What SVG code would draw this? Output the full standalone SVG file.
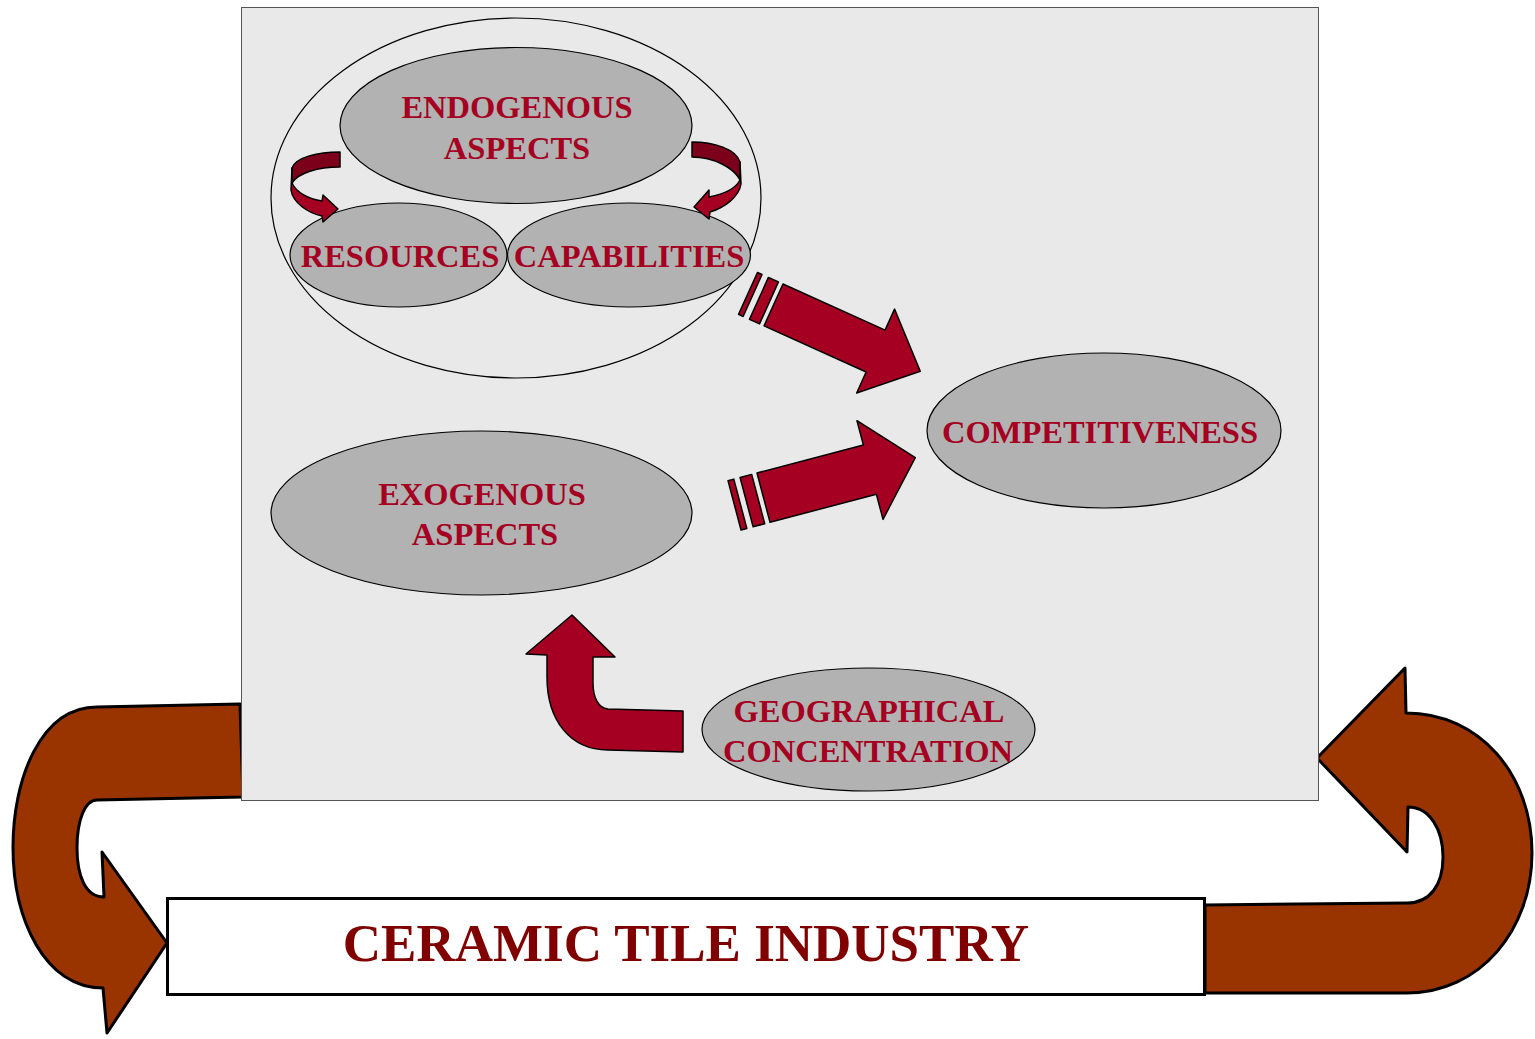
<svg xmlns="http://www.w3.org/2000/svg" width="1535" height="1039" viewBox="0 0 1535 1039">
<style>
.panel{fill:#e9e9e9;stroke:#555;stroke-width:1}
.ell{fill:#b2b2b2;stroke:#000;stroke-width:1.2}
.outer{fill:none;stroke:#000;stroke-width:1.2}
.lbl{font-family:"Liberation Serif","Times New Roman",serif;font-weight:bold;font-size:32.5px;fill:#a50021;text-anchor:middle}
.big{font-family:"Liberation Serif","Times New Roman",serif;font-weight:bold;font-size:53px;fill:#800000;text-anchor:middle}
.red{fill:#a50021;stroke:#000;stroke-width:1.5;stroke-linejoin:round}
.dark{fill:#7d001a;stroke:#000;stroke-width:1.5;stroke-linejoin:round}
.brown{fill:#993300;stroke:#000;stroke-width:3;stroke-linejoin:round}
</style>
<rect width="1535" height="1039" fill="#fff"/>
<g id="loop-arrows">
<path class="brown" d="M 240,704 L 97,707 C 40,707 13,780 13,847 C 13,920 45,988 103,988 L 107,1033 L 167,943 L 102,852 L 104,897 C 85,897 77,875 77,848 C 77,820 85,800 97,800 L 243,797 Z"/>
<path class="brown" d="M 1205,905 L 1407,903 C 1430,903 1443,885 1443,857 C 1443,830 1430,807 1408,807 L 1407,852 L 1317,758 L 1405,668 L 1406,713 C 1480,713 1532,775 1532,853 C 1532,930 1480,993 1407,993 L 1205,993 Z"/>
</g>
<rect id="panel" class="panel" x="241.5" y="7.5" width="1077" height="793"/>
<g id="industry">
<rect x="167.5" y="898.5" width="1037" height="96" fill="#fff" stroke="#000" stroke-width="3"/>
<text class="big" x="686" y="961">CERAMIC TILE INDUSTRY</text>
</g>
<g id="endogenous-group">
<ellipse class="outer" cx="516" cy="198" rx="245" ry="180"/>
</g>
<g id="endogenous">
<ellipse class="ell" cx="516" cy="125.5" rx="176" ry="78"/>
<text class="lbl" x="517" y="118">ENDOGENOUS</text>
<text class="lbl" x="517" y="159">ASPECTS</text>
</g>
<g id="resources">
<ellipse class="ell" cx="398.5" cy="255" rx="108.5" ry="52"/>
<text class="lbl" x="400" y="267">RESOURCES</text>
</g>
<g id="capabilities">
<ellipse class="ell" cx="629" cy="255" rx="121.5" ry="52"/>
<text class="lbl" x="629" y="267">CAPABILITIES</text>
</g>
<g id="competitiveness">
<ellipse class="ell" cx="1104" cy="430.5" rx="177" ry="77.5"/>
<text class="lbl" x="1100" y="443">COMPETITIVENESS</text>
</g>
<g id="exogenous">
<ellipse class="ell" cx="481.5" cy="513" rx="210.5" ry="82"/>
<text class="lbl" x="482" y="505">EXOGENOUS</text>
<text class="lbl" x="485" y="545">ASPECTS</text>
</g>
<g id="geographical">
<ellipse class="ell" cx="868.5" cy="729.5" rx="166.5" ry="61.5"/>
<text class="lbl" x="869" y="722">GEOGRAPHICAL</text>
<text class="lbl" x="868" y="762">CONCENTRATION</text>
</g>
<g id="connectors">
<path class="dark" d="M 340,152 C 318,152 296,157 292,168 L 292,183 C 298,173 318,167 340,167 Z"/>
<path class="red" d="M 292,168 L 291,190 C 293,203 308,213 322,216 L 323,222 L 338,209 L 323,195 L 322,201 C 308,199 296,192 292,183 Z"/>
<path class="dark" d="M 692,142 C 714,142 736,149 740,162 L 740,180 C 734,168 714,157 692,157 Z"/>
<path class="red" d="M 740,162 L 741,184 C 739,197 724,208 710,212 L 709,219 L 694,207 L 709,190 L 709,197 C 724,194 736,188 740,180 Z"/>
<g transform="translate(783,284) rotate(24.3)">
<path class="red" d="M 0,0 L 112,0 L 112,-23 L 161,23 L 112,69 L 112,46 L 0,46 Z"/>
<rect class="red" x="-16" y="0" width="11" height="46"/>
<rect class="red" x="-28" y="0" width="5" height="46"/>
</g>
<g transform="translate(757,473) rotate(-14.8)">
<path class="red" d="M 0,0 L 110,0 L 110,-25 L 157,25.5 L 110,77 L 110,51 L 0,51 Z"/>
<rect class="red" x="-17.5" y="0" width="12" height="51"/>
<rect class="red" x="-30" y="0" width="6" height="51"/>
</g>
<path class="red" d="M 572,615 L 615,657 L 593,657 L 593,683 C 593,697 598,708 608,709 L 683,711 L 683,752 L 608,750 C 570,750 547,720 547,677 L 547,655 L 526,654 Z"/>
</g>
</svg>
